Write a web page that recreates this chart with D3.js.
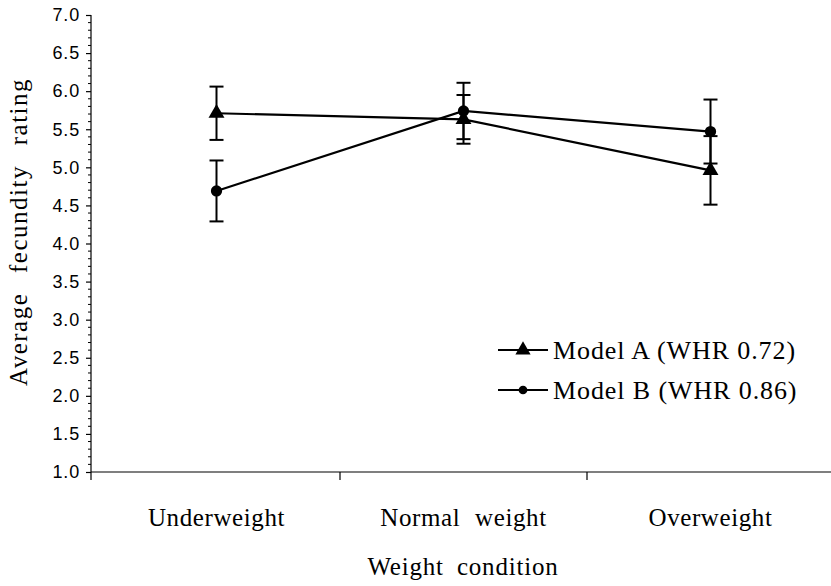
<!DOCTYPE html>
<html><head><meta charset="utf-8">
<script src="https://cdn.jsdelivr.net/npm/d3@7/dist/d3.min.js"></script>
<style>body{margin:0;background:#fff}svg{display:block}
.serif{font-family:"Liberation Serif","Times New Roman",Times,"DejaVu Serif",serif}
.sans{font-family:"Liberation Sans",Arial,sans-serif}</style>
</head><body>
<svg id="c" width="831" height="586"></svg>
<script>
const categories = ["Underweight", "Normal weight", "Overweight"];
const seriesNames = ["Model A (WHR 0.72)", "Model B (WHR 0.86)"];
const modelA = [5.71, 5.63, 4.96];
const modelAErr = [0.35, 0.32, 0.45];
const modelB = [4.69, 5.74, 5.47];
const modelBErr = [0.40, 0.37, 0.42];
const yTicks = [1.0,1.5,2.0,2.5,3.0,3.5,4.0,4.5,5.0,5.5,6.0,6.5,7.0];
const yTitle = "Average fecundity rating";
const xTitle = "Weight condition";

const svg = d3.select("#c");
const axX = 91, x0 = 93, x1 = 834, yTop = 15, yBot = 472;
const x = d3.scaleBand().domain(categories).range([x0, x1]);
const y = d3.scaleLinear().domain([1, 7]).range([yBot, yTop]);

// Y axis
const yAxis = svg.append("g").attr("transform", `translate(${axX},0)`)
  .call(d3.axisLeft(y).tickValues(yTicks).tickFormat(d3.format(".1f")).tickSize(5).tickPadding(6));
yAxis.select(".domain").attr("stroke", "#000").attr("stroke-width", 1.2).attr("d", `M0,${yBot}V${yTop}`);
yAxis.selectAll(".tick line").attr("stroke", "#000").attr("stroke-width", 1.2);
yAxis.selectAll("text").attr("class", "sans").attr("font-family", null)
  .style("font-size", "18px").style("letter-spacing", "0.8px").attr("fill", "#000");
// minor ticks
const minor = d3.range(10, 71).map(d => d / 10).filter(d => Math.round(d * 10) % 5 !== 0);
svg.append("g").selectAll("line").data(minor).join("line")
  .attr("x1", axX - 3).attr("x2", axX).attr("y1", d => y(d)).attr("y2", d => y(d))
  .attr("stroke", "#000").attr("stroke-width", 1);

// X axis
svg.append("line").attr("x1", axX).attr("x2", 831).attr("y1", yBot).attr("y2", yBot)
  .attr("stroke", "#000").attr("stroke-width", 1.2);
const seps = categories.slice(1).map(c => x(c));
svg.append("g").selectAll("line").data(seps).join("line")
  .attr("x1", d => d).attr("x2", d => d).attr("y1", yBot).attr("y2", yBot + 8)
  .attr("stroke", "#000").attr("stroke-width", 1.2);
svg.append("line").attr("x1", axX).attr("x2", axX).attr("y1", yBot).attr("y2", yBot + 8)
  .attr("stroke", "#000").attr("stroke-width", 1.2);
svg.append("g").selectAll("text").data(categories).join("text")
  .attr("class", "serif")
  .attr("x", d => x(d) + x.bandwidth() / 2).attr("y", 526)
  .attr("text-anchor", "middle").style("font-size", "25px")
  .style("letter-spacing", "0.6px").style("word-spacing", "8px").text(d => d);

svg.append("text").attr("class", "serif").attr("x", 463).attr("y", 575).attr("text-anchor", "middle")
  .style("font-size", "25px").style("letter-spacing", "0.8px").style("word-spacing", "6px").text(xTitle);
svg.append("text").attr("class", "serif").attr("transform", `translate(27,232) rotate(-90)`).attr("text-anchor", "middle")
  .style("font-size", "25px").style("letter-spacing", "1.5px").style("word-spacing", "12px").text(yTitle);

const cx = c => x(c) + x.bandwidth() / 2;
const series = [
  {name: seriesNames[0], vals: modelA, err: modelAErr, shape: d3.symbolTriangle, size: 110},
  {name: seriesNames[1], vals: modelB, err: modelBErr, shape: d3.symbolCircle, size: 100}
];
const line = d3.line().x((d, i) => cx(categories[i])).y(d => y(d));
series.forEach(s => {
  const g = svg.append("g");
  g.append("path").attr("d", line(s.vals)).attr("fill", "none").attr("stroke", "#000").attr("stroke-width", 2.2);
  const eb = g.selectAll(".eb").data(s.vals).join("g");
  eb.append("line").attr("x1", (d, i) => cx(categories[i])).attr("x2", (d, i) => cx(categories[i]))
    .attr("y1", (d, i) => y(d + s.err[i])).attr("y2", (d, i) => y(d - s.err[i]))
    .attr("stroke", "#000").attr("stroke-width", 2);
  [1, -1].forEach(sg => {
    eb.append("line").attr("x1", (d, i) => cx(categories[i]) - 7).attr("x2", (d, i) => cx(categories[i]) + 7)
      .attr("y1", (d, i) => y(d + sg * s.err[i])).attr("y2", (d, i) => y(d + sg * s.err[i]))
      .attr("stroke", "#000").attr("stroke-width", 2);
  });
  g.selectAll(".m").data(s.vals).join("path")
    .attr("transform", (d, i) => `translate(${cx(categories[i])},${y(d)})`)
    .attr("d", d3.symbol().type(s.shape).size(s.size)).attr("fill", "#000");
});

// Legend
const leg = svg.append("g");
series.forEach((s, i) => {
  const ly = 350 + i * 40;
  leg.append("line").attr("x1", 498).attr("x2", 548).attr("y1", ly).attr("y2", ly)
    .attr("stroke", "#000").attr("stroke-width", 2);
  leg.append("path").attr("transform", `translate(523,${ly})`)
    .attr("d", d3.symbol().type(s.shape).size(i === 0 ? 100 : 60)).attr("fill", "#000");
  leg.append("text").attr("class", "serif").attr("x", 553).attr("y", ly + 9).style("font-size", "26px")
    .style("letter-spacing", "0.9px").text(s.name);
});
</script>
</body></html>
